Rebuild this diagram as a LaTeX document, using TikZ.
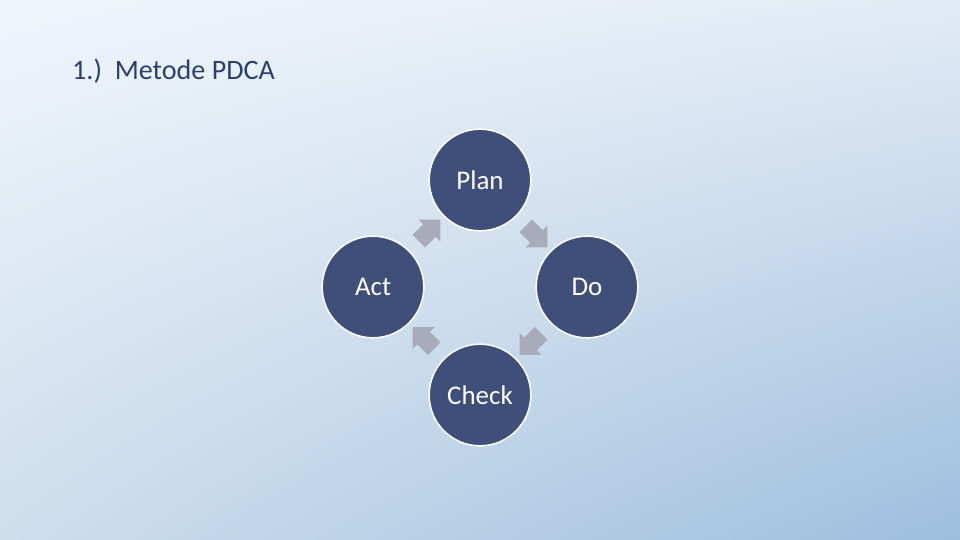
\documentclass[tikz,border=0pt]{standalone}
\usepackage{fontspec}
\setmainfont{Carlito}
\usetikzlibrary{calc}
\usetikzlibrary{shadings}
\usetikzlibrary{shapes.arrows}
\definecolor{pdcablue}{RGB}{64,79,122}
\definecolor{titleblue}{RGB}{47,62,108}
\definecolor{arrowgray}{RGB}{168,171,186}
\definecolor{bgtl}{RGB}{240,245,251}
\definecolor{bgtr}{RGB}{226,235,245}
\definecolor{bgbl}{RGB}{206,222,237}
\definecolor{bgbr}{RGB}{158,190,221}

\begin{document}
\begin{tikzpicture}[x=0.03cm,y=-0.03cm,
    phase/.style={circle,fill=pdcablue,draw=white,line width=1.3pt,minimum size=3.05cm,
      text=white,font=\fontsize{23}{27}\selectfont},
    turn/.style={single arrow,fill=arrowgray,draw=none,inner sep=0.26cm,
      single arrow head extend=0.2cm,minimum height=0.92cm}]
    \useasboundingbox (0,0) rectangle (960,540);
    \shade[upper left=bgtl,upper right=bgtr,lower left=bgbl,lower right=bgbr] (0,0) rectangle (960,540);
    \node[anchor=base west,inner sep=0,text=titleblue,font=\fontsize{24}{29}\selectfont] (title) at (72,80) {1.)~~Metode PDCA};
    \node[phase] (plan)  at (480,180) {Plan};
    \node[phase] (do)    at (587,287) {Do};
    \node[phase] (check) at (480,395) {Check};
    \node[phase] (act)   at (373,287) {Act};
    % clockwise turns between the phases
    \node[turn,rotate=-45]  (pd) at ($(plan)!0.5!(do)$) {};
    \node[turn,rotate=-135] (dc) at ($(do)!0.5!(check)$) {};
    \node[turn,rotate=135]  (ca) at ($(check)!0.5!(act)$) {};
    \node[turn,rotate=45]   (ap) at ($(act)!0.5!(plan)$) {};
  \end{tikzpicture}
\end{document}
